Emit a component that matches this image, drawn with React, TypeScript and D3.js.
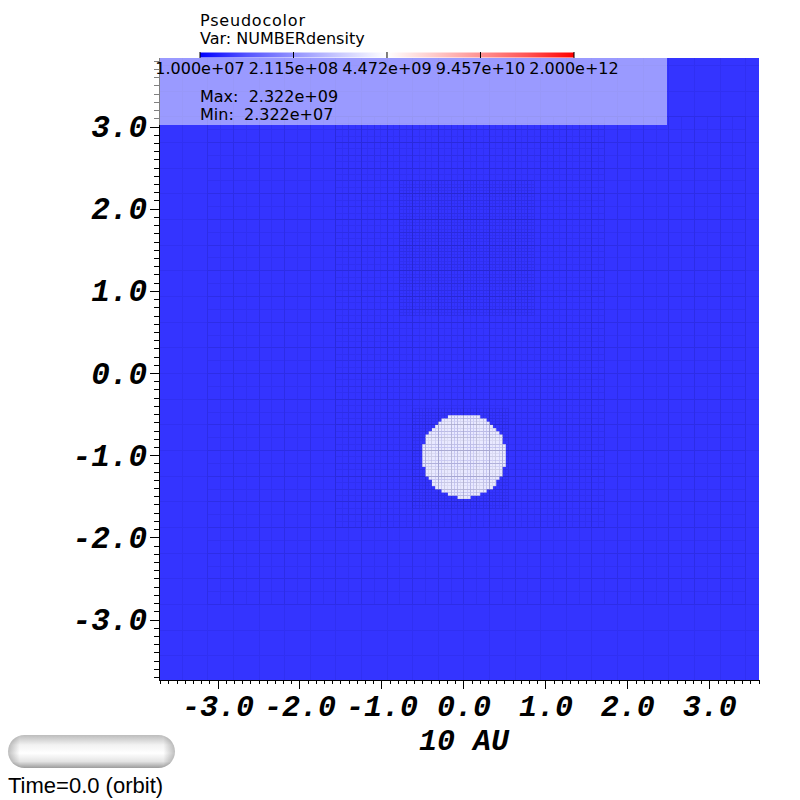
import * as d3 from "d3"

// colour legend
const colorTicks = [1.0e7, 2.115e8, 4.472e9, 9.457e10, 2.0e12]
const colorTickLabels = ["1.000e+07", "2.115e+08", "4.472e+09", "9.457e+10", "2.000e+12"]
const fieldMax = 2.322e9
const fieldMin = 2.322e7

// axis ticks (units of 10 AU)
const axisTicks = [-3, -2, -1, 0, 1, 2, 3]
const axisTickLabels = ["-3.0", "-2.0", "-1.0", "0.0", "1.0", "2.0", "3.0"]

// AMR patches: level, extent
const patchLevel = [0, 1, 2, 3, 3]
const patchX0 = [-3.75, -3.125, -1.5625, -0.78125, -0.625]
const patchX1 = [3.75, 3.4375, 1.71875, 0.859375, 0.546875]
const patchY0 = [-3.75, -2.8125, -1.875, 0.703125, -1.640625]
const patchY1 = [4.0625, 3.125, 3.046875, 2.34375, -0.4375]
const baseCell = 0.3125

// dense clump
const clumpX = 0
const clumpY = -1
const clumpR = 0.51
const clumpPatch = 4

export default function App() {
  const x = d3.scaleLinear().domain([-3.72, 3.6]).range([159, 759])
  const y = d3.scaleLinear().domain([-3.73, 3.84]).range([680, 58])
  const logPos = d3.scaleLog().domain([colorTicks[0], colorTicks[4]]).range([0, 1])
  const ramp = d3
    .scaleLinear<string>()
    .domain([0, 0.5, 1])
    .range(["#0000ff", "#ffffff", "#ff0000"])
    .interpolate(d3.interpolateRgb.gamma(1.25))
  const color = (v: number) => ramp(logPos(v))

  const [xl, xr] = x.range()
  const [yb, yt] = y.range()

  // mesh lines
  const meshPaths = patchLevel.map((lv, p) => {
    const dx = baseCell / Math.pow(2, lv)
    const nx = Math.round((patchX1[p] - patchX0[p]) / dx)
    const ny = Math.round((patchY1[p] - patchY0[p]) / dx)
    let d = ""
    d3.range(nx + 1).forEach((i) => {
      const xv = x(patchX0[p] + i * dx)
      d += `M${xv},${y(patchY0[p])}V${y(patchY1[p])}`
    })
    d3.range(ny + 1).forEach((j) => {
      const yv = y(patchY0[p] + j * dx)
      d += `M${x(patchX0[p])},${yv}H${x(patchX1[p])}`
    })
    return d
  })

  // clump cells
  const cdx = baseCell / Math.pow(2, patchLevel[clumpPatch])
  const cnx = Math.round((patchX1[clumpPatch] - patchX0[clumpPatch]) / cdx)
  const cny = Math.round((patchY1[clumpPatch] - patchY0[clumpPatch]) / cdx)
  const clumpCells: { x0: number; y0: number }[] = []
  d3.range(cnx).forEach((i) => {
    d3.range(cny).forEach((j) => {
      const cx = patchX0[clumpPatch] + (i + 0.5) * cdx
      const cy = patchY0[clumpPatch] + (j + 0.5) * cdx
      if (Math.hypot(cx - clumpX, cy - clumpY) < clumpR) {
        clumpCells.push({ x0: patchX0[clumpPatch] + i * cdx, y0: patchY0[clumpPatch] + j * cdx })
      }
    })
  })

  const xMinor = d3.range(-37, 37).map((i) => i / 10)
  const yMinor = d3.range(-37, 39).map((i) => i / 10)

  const barX = d3.scaleLog().domain([colorTicks[0], colorTicks[4]]).range([200, 574])
  const axisFont = "'Liberation Mono', 'DejaVu Sans Mono', monospace"
  const textFont = "'DejaVu Sans', Verdana, sans-serif"

  return (
    <svg width={800} height={800} style={{ position: "absolute", left: 0, top: 0, background: "#fff" }}>
      <defs>
        <clipPath id="plot">
          <rect x={xl} y={yt} width={xr - xl} height={yb - yt} />
        </clipPath>
        <linearGradient id="bar" x1="0" x2="1" y1="0" y2="0">
          {d3.range(0, 1.001, 0.125).map((t) => (
            <stop key={t} offset={t} stopColor={ramp(t)} />
          ))}
        </linearGradient>
        <linearGradient id="pillV" x1="0" x2="0" y1="0" y2="1">
          <stop offset="0" stopColor="#bcbcbc" />
          <stop offset="0.3" stopColor="#f2f2f2" />
          <stop offset="0.55" stopColor="#ffffff" />
          <stop offset="0.8" stopColor="#e4e4e4" />
          <stop offset="1" stopColor="#9c9c9c" />
        </linearGradient>
        <linearGradient id="pillH" x1="0" x2="1" y1="0" y2="0">
          <stop offset="0" stopColor="#000" stopOpacity="0.25" />
          <stop offset="0.07" stopColor="#000" stopOpacity="0" />
          <stop offset="0.93" stopColor="#000" stopOpacity="0" />
          <stop offset="1" stopColor="#000" stopOpacity="0.25" />
        </linearGradient>
      </defs>

      {/* field */}
      <g clipPath="url(#plot)">
        <rect x={xl} y={yt} width={xr - xl} height={yb - yt} fill={color(fieldMin)} />
        {clumpCells.map((c, i) => (
          <rect
            key={i}
            x={x(c.x0)}
            y={y(c.y0 + cdx)}
            width={x(c.x0 + cdx) - x(c.x0) + 0.3}
            height={y(c.y0) - y(c.y0 + cdx) + 0.3}
            fill={color(fieldMax)}
          />
        ))}
        {meshPaths.map((d, i) => (
          <path key={i} d={d} fill="none" stroke="#000030" strokeOpacity={0.06} strokeWidth={1} shapeRendering="crispEdges" />
        ))}
      </g>

      {/* axes */}
      <g stroke="#000" strokeWidth={1} shapeRendering="crispEdges">
        <line x1={xl} x2={xl} y1={yt} y2={yb + 1} />
        <line x1={xl} x2={xr} y1={yb + 0.5} y2={yb + 0.5} />
        {yMinor.map((t) => (
          <line key={"ym" + t} x1={xl - 5} x2={xl} y1={y(t)} y2={y(t)} />
        ))}
        {axisTicks.map((t) => (
          <line key={"yM" + t} x1={xl - 9} x2={xl} y1={y(t)} y2={y(t)} />
        ))}
        {xMinor.map((t) => (
          <line key={"xm" + t} x1={x(t)} x2={x(t)} y1={yb} y2={yb + 4} />
        ))}
        {axisTicks.map((t) => (
          <line key={"xM" + t} x1={x(t)} x2={x(t)} y1={yb} y2={yb + 9} />
        ))}
      </g>
      <g fontFamily={axisFont} fontWeight="bold" fontStyle="italic" fontSize={30} fill="#000">
        {axisTicks.map((t, i) => (
          <text key={"yl" + t} x={147} y={y(t) + 10} textAnchor="end" fontSize={31}>
            {axisTickLabels[i]}
          </text>
        ))}
        {axisTicks.map((t, i) => (
          <text key={"xl" + t} x={x(t)} y={716} textAnchor="middle">
            {axisTickLabels[i]}
          </text>
        ))}
        <text x={x(0)} y={750} textAnchor="middle">
          10 AU
        </text>
      </g>

      {/* legend overlay */}
      <rect x={150} y={58} width={517} height={67} fill="#fff" fillOpacity={0.5} />
      <rect x={barX.range()[0]} y={52.5} width={barX.range()[1] - barX.range()[0]} height={5} fill="url(#bar)" />
      {colorTicks.map((t) => (
        <line key={"ct" + t} x1={barX(t)} x2={barX(t)} y1={52} y2={58} stroke="#000" strokeWidth={1} />
      ))}
      <g fontFamily={textFont} fill="#000">
        <text x={200} y={26} fontSize={16} letterSpacing={0.8}>
          Pseudocolor
        </text>
        <text x={200} y={44} fontSize={16}>
          Var: NUMBERdensity
        </text>
        {colorTicks.map((t, i) => (
          <text key={"cl" + t} x={barX(t)} y={74} fontSize={16} textAnchor="middle">
            {colorTickLabels[i]}
          </text>
        ))}
        <text x={200} y={102} fontSize={16} xmlSpace="preserve">
          {"Max:  " + d3.format(".3e")(fieldMax).replace("e+", "e+0")}
        </text>
        <text x={200} y={120} fontSize={16} xmlSpace="preserve">
          {"Min:  " + d3.format(".3e")(fieldMin).replace("e+", "e+0")}
        </text>
      </g>

      {/* time slider */}
      <rect x={8} y={735} width={167} height={33} rx={16.5} fill="url(#pillV)" />
      <rect x={8} y={735} width={167} height={33} rx={16.5} fill="url(#pillH)" />
      <text x={8} y={793} fontFamily="'Liberation Sans', Arial, sans-serif" fontSize={22} fill="#000">
        Time=0.0 (orbit)
      </text>
    </svg>
  )
}
